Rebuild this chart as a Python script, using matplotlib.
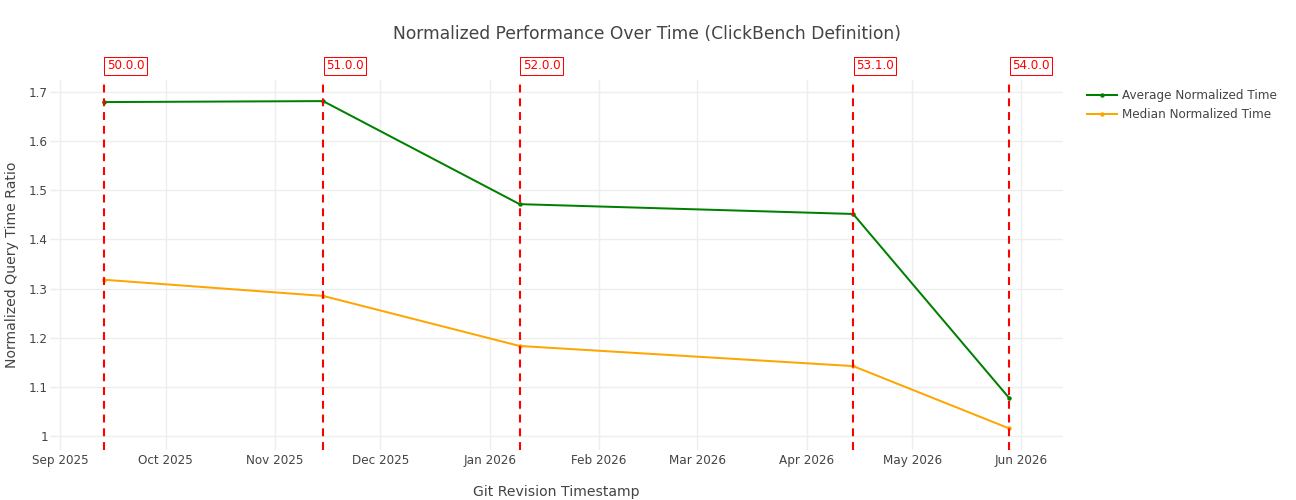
import matplotlib
matplotlib.use("Agg")
import matplotlib.pyplot as plt
import matplotlib.dates as mdates
import matplotlib.ticker as mticker
import pandas as pd

# ---- data ----
release_labels = ["50.0.0", "51.0.0", "52.0.0", "53.1.0", "54.0.0"]
release_dates = ["2025-09-13 10:00", "2025-11-14 17:00", "2026-01-09 12:00",
                 "2026-04-14 05:00", "2026-05-28 12:00"]
avg_normalized = [1.680, 1.682, 1.472, 1.452, 1.077]
median_normalized = [1.318, 1.285, 1.183, 1.142, 1.015]
x_tick_labels = ["Sep 2025", "Oct 2025", "Nov 2025", "Dec 2025", "Jan 2026",
                 "Feb 2026", "Mar 2026", "Apr 2026", "May 2026", "Jun 2026"]
y_ticks = [1.0, 1.1, 1.2, 1.3, 1.4, 1.5, 1.6, 1.7]

dates = pd.to_datetime(release_dates)
tick_dates = pd.date_range("2025-09-01", "2026-06-01", freq="MS")

TXT = "#444444"
plt.rcParams["font.family"] = ["DejaVu Sans"]

fig = plt.figure(figsize=(12.96, 5.0), dpi=100)
W, H = 1296, 500
L, R, T, B = 50, 1063, 80, 450
ax = fig.add_axes([L / W, 1 - B / H, (R - L) / W, (B - T) / H])

lw = 1.44
ax.plot(dates, avg_normalized, color="green", lw=lw, marker="o", ms=2.2,
        label="Average Normalized Time", zorder=3)
ax.plot(dates, median_normalized, color="orange", lw=lw, marker="o", ms=2.2,
        label="Median Normalized Time", zorder=3)

for d, lab in zip(dates, release_labels):
    ax.axvline(d, color="red", lw=1.5, linestyle=(0, (3.8, 2.8)), zorder=4)
    ax.annotate(lab, xy=(d, 1.0), xycoords=("data", "axes fraction"),
                xytext=(2.2, 5.5), textcoords="offset points",
                ha="left", va="bottom", color="red", fontsize=8.64,
                bbox=dict(boxstyle="square,pad=0.2", fc="white", ec="red", lw=0.75),
                annotation_clip=False)

ax.set_xlim(pd.Timestamp("2025-08-29 04:00"), pd.Timestamp("2026-06-12 19:00"))
ax.set_ylim(0.971, 1.725)

ax.set_xticks(tick_dates)
ax.set_xticklabels(x_tick_labels)
ax.set_yticks(y_ticks)
ax.yaxis.set_major_formatter(mticker.FuncFormatter(lambda v, p: f"{v:g}"))

ax.grid(True, color="#eeeeee", lw=1.0, zorder=0)
ax.set_axisbelow(True)
for s in ax.spines.values():
    s.set_visible(False)
ax.tick_params(axis="both", length=0, labelsize=8.64, labelcolor=TXT)
ax.tick_params(axis="x", pad=3)
ax.tick_params(axis="y", pad=1.5)

fig.text((L + R) / 2 / W, 1 - 492 / H, "Git Revision Timestamp", ha="center",
         va="center", fontsize=10.08, color=TXT)
fig.text(12 / W, 1 - (T + B) / 2 / H, "Normalized Query Time Ratio", rotation=90,
         ha="center", va="center", fontsize=10.08, color=TXT)
fig.text(647 / W, 1 - 34 / H, "Normalized Performance Over Time (ClickBench Definition)",
         ha="center", va="center", fontsize=12.3, color=TXT)

leg = fig.legend(loc="upper left", bbox_to_anchor=(1082 / W, 1 - 84 / H),
                 frameon=False, fontsize=8.64, handlelength=2.5,
                 handletextpad=0.45, labelspacing=0.55, borderaxespad=0)
for t in leg.get_texts():
    t.set_color(TXT)

fig.savefig("out.png", dpi=100)
